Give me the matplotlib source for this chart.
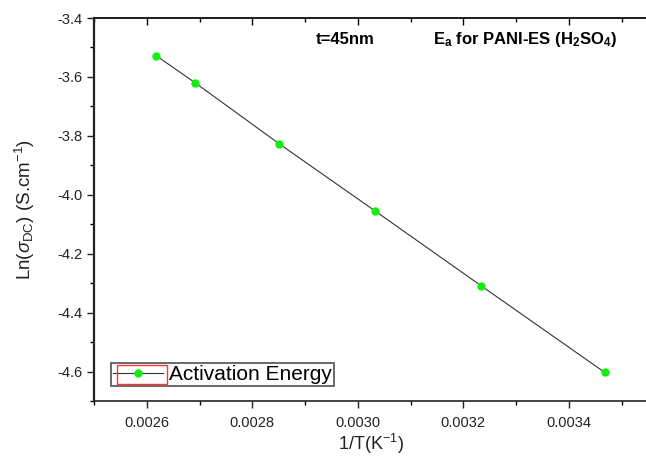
import matplotlib
matplotlib.use("Agg")
import matplotlib.pyplot as plt
from matplotlib.patches import Rectangle
from matplotlib.ticker import MultipleLocator

plt.rcParams['font.family'] = ['Liberation Sans', 'DejaVu Sans']
plt.rcParams['mathtext.fontset'] = 'custom'
plt.rcParams['mathtext.rm'] = 'Liberation Sans'
plt.rcParams['mathtext.it'] = 'Liberation Sans:italic'
plt.rcParams['mathtext.bf'] = 'Liberation Sans:bold'

inv_T = [0.002618, 0.002691, 0.002851, 0.003032, 0.003233, 0.003468]
ln_sigma = [-3.528, -3.619, -3.827, -4.054, -4.308, -4.603]
series_label = "Activation Energy"
x_ticks = [0.0026, 0.0028, 0.0030, 0.0032, 0.0034]
y_ticks = [-3.4, -3.6, -3.8, -4.0, -4.2, -4.4, -4.6]

fig = plt.figure(figsize=(6.46, 4.57), dpi=100)
ax = fig.add_axes([94/646, 56/457, 554/646, 383/457])

ax.plot(inv_T, ln_sigma, color='#333333', lw=0.8, marker='o', ms=5,
        mfc='#11ee11', mec='#11ee11', label=series_label)

ax.set_xlim(0.0025, 0.00355)
ax.set_ylim(-4.7, -3.4)
ax.set_xticks(x_ticks)
ax.set_xticklabels([f"{v:.4f}" for v in x_ticks])
ax.set_yticks(y_ticks)
ax.set_yticklabels([f"{v:.1f}" for v in y_ticks])
ax.xaxis.set_minor_locator(MultipleLocator(0.0001))
ax.yaxis.set_minor_locator(MultipleLocator(0.1))
ax.tick_params(axis='both', which='major', direction='out', length=5, width=1,
               labelsize=10.5, colors='#222222')
ax.tick_params(axis='both', which='minor', direction='out', length=3, width=1)
ax.tick_params(axis='x', which='major', pad=6)
ax.tick_params(axis='x', which='both', top=False)
for s in ax.spines.values():
    s.set_linewidth(1.2)
    s.set_color('#222222')
ax.spines['left'].set_linewidth(1.6)

sec = ax.secondary_xaxis('top')
sec.set_xticks(x_ticks)
sec.xaxis.set_minor_locator(MultipleLocator(0.0001))
sec.tick_params(which='major', direction='in', length=5, width=1, labeltop=False)
sec.tick_params(which='minor', direction='in', length=3, width=1)
sec.spines['top'].set_linewidth(1.2)

ax.set_xlabel(r'1/T(K$^{\mathregular{-1}}$)', fontsize=13, labelpad=1, color='#222222')
ax.set_ylabel(r'Ln($\sigma_{\mathregular{DC}}$) (S.cm$^{\mathregular{-1}}$)', fontsize=13.5,
              labelpad=14, color='#222222')

ax.text(0.002921, -3.4746, 't=45nm', fontsize=12, fontweight='bold', ha='left', va='center')
ax.text(0.003142, -3.4746, r'E$_{\mathbf{a}}$ for PANI-ES (H$_{\mathbf{2}}$SO$_{\mathbf{4}}$)',
        fontsize=12, fontweight='bold', ha='left', va='center')

leg = ax.legend(loc='lower left', bbox_to_anchor=(17/554, 15/383), fontsize=15,
                frameon=True, fancybox=False, edgecolor='#222222', borderpad=0.1,
                handlelength=2.4, handletextpad=0.3, borderaxespad=0)
leg.get_frame().set_linewidth(1.2)

fig.canvas.draw()
r = fig.canvas.get_renderer()
fb = leg.get_frame().get_window_extent(r)
tb = leg.get_texts()[0].get_window_extent(r)
inv = fig.transFigure.inverted()
x0, y0 = inv.transform((fb.x0 + 6, fb.y0 + 2))
x1, y1 = inv.transform((tb.x0 - 2, fb.y1 - 2))
fig.patches.append(Rectangle((x0, y0), x1 - x0, y1 - y0, transform=fig.transFigure,
                             fill=False, edgecolor='#ff3333', lw=1))

fig.savefig('out.png', dpi=100)
